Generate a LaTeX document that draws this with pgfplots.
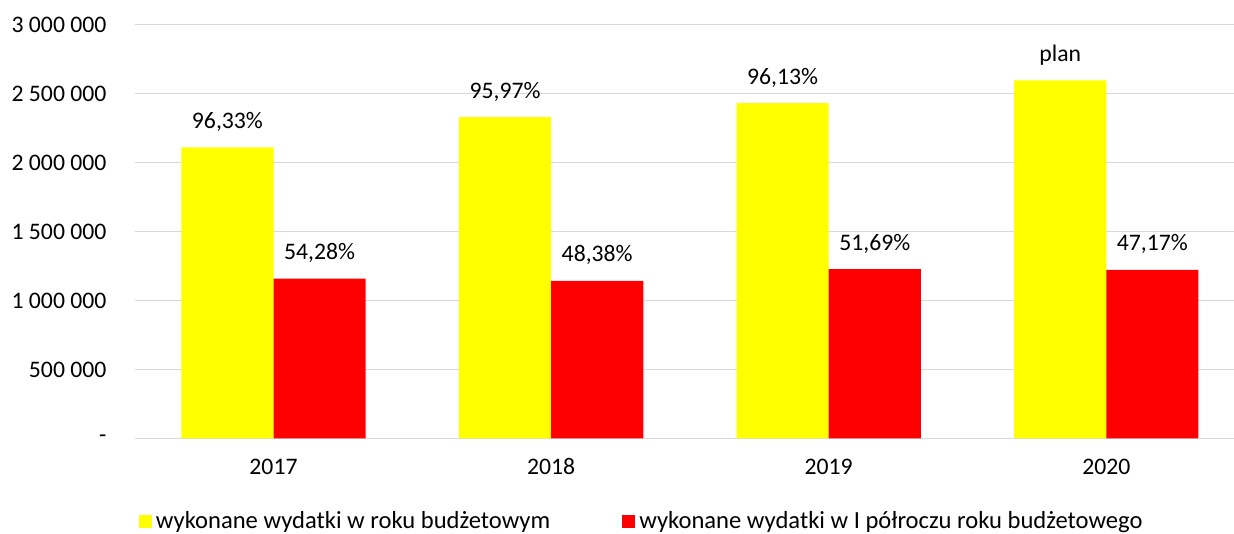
\documentclass[border=0pt]{standalone}
\usepackage{fontspec}
\setmainfont{Carlito}
\usepackage{pgfplots}
\pgfplotsset{compat=1.18}
\definecolor{baryellow}{HTML}{FFFF00}
\definecolor{barred}{HTML}{FF0000}
\definecolor{gridgray}{HTML}{D9D9D9}
\newcommand{\lblfont}{\fontsize{11.85}{14}\selectfont}

\begin{document}
\lblfont
\begin{tikzpicture}
\begin{axis}[
  width=549.65pt, height=207pt, scale only axis,
  ybar=0pt, bar width=0.332,
  xmin=-0.5, xmax=3.46, ymin=0, ymax=3000000,
  xtick={0,1,2,3},
  xticklabels={2017,2018,2019,2020},
  ytick={0,500000,1000000,1500000,2000000,2500000,3000000},
  yticklabels={-,500 000,1 000 000,1 500 000,2 000 000,2 500 000,3 000 000},
  scaled y ticks=false,
  ymajorgrids, grid style={gridgray, line width=0.75pt},
  axis line style={draw=none},
  major tick length=0pt,
  tick label style={font=\lblfont},
  xticklabel style={yshift=-6pt},
  yticklabel style={xshift=-10pt},
  nodes near coords, point meta=explicit symbolic,
  nodes near coords style={anchor=base, yshift=9.5pt, font=\lblfont, black},
  legend style={at={(-0.002,-0.2)}, anchor=west, draw=none, fill=none,
    legend columns=2, font=\fontsize{12.3}{14}\selectfont,
    /tikz/every even column/.append style={column sep=34pt}},
  legend image code/.code={\fill[#1] (0pt,-3.25pt) rectangle (6.5pt,3.25pt);},
]
\addplot[fill=baryellow, draw=none] coordinates {
  (0,2108700) [96,33\%]
  (1,2329000) [95,97\%]
  (2,2430400) [96,13\%]
  (3,2594200) [plan]
};
\addplot[fill=barred, draw=none] coordinates {
  (0,1159400) [54,28\%]
  (1,1142700) [48,38\%]
  (2,1227500) [51,69\%]
  (3,1222500) [47,17\%]
};
\legend{wykonane wydatki w roku budżetowym, wykonane wydatki w I półroczu roku budżetowego}
\end{axis}
\pgfresetboundingbox
\useasboundingbox ([shift={(-67.35pt,-47.65pt)}]current axis.south west) rectangle ([shift={(0pt,12.25pt)}]current axis.north east);
\end{tikzpicture}
\end{document}
